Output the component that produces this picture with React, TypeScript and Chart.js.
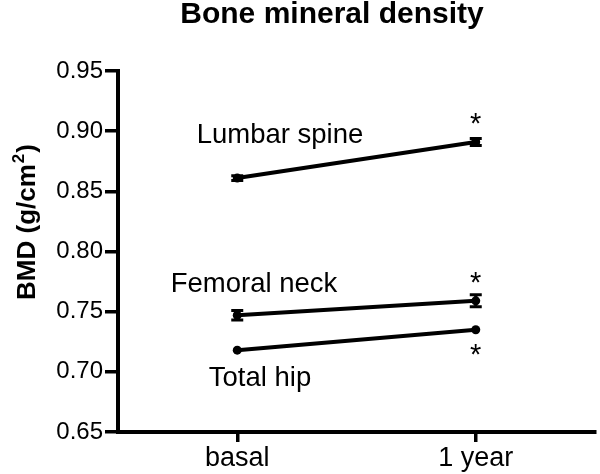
import React, { useEffect, useRef } from "react";
import { Chart, registerables } from "chart.js";

Chart.register(...registerables);

const categories = ["basal", "1 year"];
const lumbarSpine = [0.861, 0.891];
const lumbarSpineErr = [0.002, 0.003];
const femoralNeck = [0.747, 0.759];
const femoralNeckErr = [0.004, 0.005];
const totalHip = [0.718, 0.735];
const totalHipErr = [0.0, 0.0];
const yTicks = [0.65, 0.7, 0.75, 0.8, 0.85, 0.9, 0.95];

const FONT = "'Liberation Sans', Arial, sans-serif";

const seriesList = [
  { name: "Lumbar spine", values: lumbarSpine, errors: lumbarSpineErr },
  { name: "Femoral neck", values: femoralNeck, errors: femoralNeckErr },
  { name: "Total hip", values: totalHip, errors: totalHipErr },
];

const overlay = {
  id: "overlay",
  afterDatasetsDraw(chart: any) {
    const ctx = chart.ctx;
    const xs = chart.scales.x;
    const ys = chart.scales.y;
    ctx.save();
    // error bars
    ctx.strokeStyle = "#000";
    ctx.lineWidth = 3;
    seriesList.forEach((s) => {
      s.values.forEach((v, i) => {
        const e = s.errors[i];
        if (!e) return;
        const px = xs.getPixelForValue(i);
        const top = ys.getPixelForValue(v + e);
        const bot = ys.getPixelForValue(v - e);
        ctx.beginPath();
        ctx.moveTo(px, top);
        ctx.lineTo(px, bot);
        ctx.moveTo(px - 6, top);
        ctx.lineTo(px + 6, top);
        ctx.moveTo(px - 6, bot);
        ctx.lineTo(px + 6, bot);
        ctx.stroke();
      });
    });
    ctx.fillStyle = "#000";
    ctx.textAlign = "center";
    ctx.textBaseline = "middle";
    // series labels
    ctx.font = `27.5px ${FONT}`;
    const x1 = xs.getPixelForValue(1);
    ctx.fillText(seriesList[0].name, 280, ys.getPixelForValue(lumbarSpine[0]) - 43);
    ctx.fillText(seriesList[1].name, 254, ys.getPixelForValue(femoralNeck[0]) - 31);
    ctx.fillText(seriesList[2].name, 260, ys.getPixelForValue(totalHip[0]) + 28);
    // asterisks
    ctx.font = `29px ${FONT}`;
    ctx.fillText("*", x1, ys.getPixelForValue(lumbarSpine[1]) - 17);
    ctx.fillText("*", x1, ys.getPixelForValue(femoralNeck[1]) - 17);
    ctx.fillText("*", x1, ys.getPixelForValue(totalHip[1]) + 26);
    // title
    ctx.font = `bold 30px ${FONT}`;
    ctx.fillText("Bone mineral density", 332, 15);
    // y title with superscript
    ctx.translate(25, 222);
    ctx.rotate(-Math.PI / 2);
    ctx.textAlign = "left";
    ctx.textBaseline = "alphabetic";
    const mainFont = `bold 26px ${FONT}`;
    const supFont = `bold 17px ${FONT}`;
    ctx.font = mainFont;
    const a = "BMD (g/cm";
    const b = "2";
    const c = ")";
    const wa = ctx.measureText(a).width;
    const wc = ctx.measureText(c).width;
    ctx.font = supFont;
    const wb = ctx.measureText(b).width;
    const total = wa + wb + wc + 2;
    let cx = -total / 2;
    const base = 10;
    ctx.font = mainFont;
    ctx.fillText(a, cx, base);
    cx += wa + 1;
    ctx.font = supFont;
    ctx.fillText(b, cx, base - 11);
    cx += wb + 1;
    ctx.font = mainFont;
    ctx.fillText(c, cx, base);
    ctx.restore();
  },
};

export default function App() {
  const ref = useRef<HTMLCanvasElement>(null);
  useEffect(() => {
    document.body.style.margin = "0";
    const ds = seriesList.map((s) => ({
      label: s.name,
      data: s.values.map((v, i) => ({ x: i, y: v })),
      borderColor: "#000",
      backgroundColor: "#000",
      borderWidth: 4,
      pointRadius: 4.5,
      pointBackgroundColor: "#000",
      pointBorderWidth: 0,
      showLine: true,
    }));
    const chart = new Chart(ref.current!, {
      type: "scatter",
      data: { datasets: ds },
      plugins: [overlay],
      options: {
        animation: false,
        responsive: false,
        layout: { padding: { top: 71, right: 5, left: 0, bottom: 0 } },
        plugins: { legend: { display: false }, tooltip: { enabled: false }, title: { display: false } },
        scales: {
          x: {
            type: "linear",
            min: -0.5,
            max: 1.5,
            afterBuildTicks: (s: any) => {
              s.ticks = categories.map((_, i) => ({ value: i }));
            },
            afterFit: (s: any) => {
              s.height = 42;
            },
            ticks: {
              callback: (v: any) => categories[v as number] ?? "",
              color: "#000",
              font: { family: FONT, size: 27 },
              padding: 0,
              maxRotation: 0,
              autoSkip: false,
            },
            grid: { display: true, drawOnChartArea: false, drawTicks: true, tickLength: 10, color: "#000", lineWidth: 3.5 },
            border: { display: true, color: "#000", width: 4 },
          },
          y: {
            min: 0.65,
            max: 0.95,
            afterBuildTicks: (s: any) => {
              s.ticks = yTicks.map((v) => ({ value: v }));
            },
            afterFit: (s: any) => {
              s.width = 118;
            },
            ticks: {
              callback: (v: any) => Number(v).toFixed(2),
              color: "#000",
              font: { family: FONT, size: 24 },
              padding: 2,
            },
            grid: { display: true, drawOnChartArea: false, drawTicks: true, tickLength: 13, color: "#000", lineWidth: 3.5 },
            border: { display: true, color: "#000", width: 4 },
          },
        },
      } as any,
    });
    return () => chart.destroy();
  }, []);
  return <canvas ref={ref} width={600} height={474} />;
}
